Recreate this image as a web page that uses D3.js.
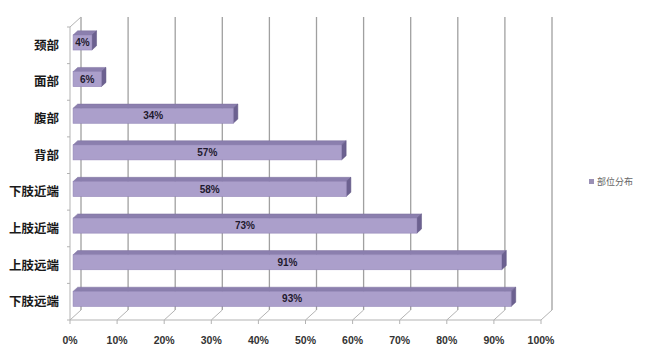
<!DOCTYPE html>
<html><head><meta charset="utf-8">
<script src="https://cdn.jsdelivr.net/npm/d3@7"></script>
<style>body{margin:0;background:#fff;}svg{display:block;font-family:"Noto Sans CJK SC","Noto Sans",sans-serif;}</style>
</head><body>
<script>
const categories = ["颈部","面部","腹部","背部","下肢近端","上肢近端","上肢远端","下肢远端"];
const values = [0.04,0.06,0.34,0.57,0.58,0.73,0.91,0.93];
const tickValues = [0,0.1,0.2,0.3,0.4,0.5,0.6,0.7,0.8,0.9,1.0];
const seriesName = "部位分布";

(function(){
const W=645,H=356;
const svg=d3.select("body").append("svg").attr("width",W).attr("height",H);

const x=d3.scaleLinear().domain([0,1]).range([70,541]);
const y=d3.scaleBand().domain(categories).range([27,320]);
const DX=11, DY=-10;
const off=d=>[DX*d,DY*d];

const wallCol="#b3b3b3", gridCol="#a0a0a0";
const g=svg.append("g");
tickValues.forEach(v=>{
  g.append("line").attr("x1",x(v)+DX).attr("x2",x(v)+DX).attr("y1",27+DY).attr("y2",320+DY)
   .attr("stroke",gridCol).attr("stroke-width",1.3);
  g.append("line").attr("x1",x(v)).attr("y1",320).attr("x2",x(v)+DX).attr("y2",320+DY)
   .attr("stroke",wallCol).attr("stroke-width",1);
  g.append("line").attr("x1",x(v)).attr("y1",320).attr("x2",x(v)).attr("y2",324)
   .attr("stroke",wallCol).attr("stroke-width",1);
});
g.append("line").attr("x1",x(0)).attr("x2",x(1)).attr("y1",320).attr("y2",320).attr("stroke",wallCol);
g.append("line").attr("x1",x(0)).attr("x2",x(0)).attr("y1",27).attr("y2",320).attr("stroke",wallCol);
g.append("line").attr("x1",x(0)).attr("y1",27).attr("x2",x(0)+DX).attr("y2",27+DY).attr("stroke",wallCol);
categories.forEach((c,i)=>{
  const yy=y(c);
  g.append("line").attr("x1",x(0)-3).attr("x2",x(0)).attr("y1",yy).attr("y2",yy).attr("stroke",wallCol);
});
g.append("line").attr("x1",x(0)-3).attr("x2",x(0)).attr("y1",320).attr("y2",320).attr("stroke",wallCol);

const d1=0.28,d2=0.70, barH=15;
const frontCol="#ab9fcb", topCol="#8b7fae", sideCol="#6c6190";
categories.forEach((c,i)=>{
  const v=values[i];
  const cy=y(c)+y.bandwidth()/2;
  const [fx,fy]=off(d1), [bx,by]=off(d2);
  const x0=x(0)+fx, x1=x(v)+fx, y0=cy+fy-barH/2, y1=cy+fy+barH/2;
  const ddx=bx-fx, ddy=by-fy;
  g.append("path").attr("d",`M${x0},${y0}L${x0+ddx},${y0+ddy}L${x1+ddx},${y0+ddy}L${x1},${y0}Z`)
   .attr("fill",topCol).attr("stroke","#7d719f").attr("stroke-width",0.5);
  g.append("path").attr("d",`M${x1},${y0}L${x1+ddx},${y0+ddy}L${x1+ddx},${y1+ddy}L${x1},${y1}Z`)
   .attr("fill",sideCol).attr("stroke","#5f5582").attr("stroke-width",0.5);
  g.append("rect").attr("x",x0).attr("y",y0).attr("width",x1-x0).attr("height",barH)
   .attr("fill",frontCol).attr("stroke","#9487b8").attr("stroke-width",0.6);
  g.append("text").attr("x",(x0+x1)/2).attr("y",cy+fy).attr("dy","0.36em")
   .attr("text-anchor","middle").attr("font-size",10).attr("font-weight","bold")
   .attr("fill","#1f1a2e").attr("font-family","'Liberation Sans',Arial,sans-serif")
   .text(Math.round(v*100)+"%");
  g.append("text").attr("x",59).attr("y",cy).attr("dy","0.36em").attr("text-anchor","end")
   .attr("font-size",12.5).attr("font-weight","bold").attr("fill","#1a1a1a").text(c);
});

tickValues.forEach(v=>{
  g.append("text").attr("x",x(v)).attr("y",344).attr("text-anchor","middle")
   .attr("font-size",10.5).attr("font-weight","bold").attr("fill","#333")
   .attr("font-family","'Liberation Sans',Arial,sans-serif").text(Math.round(v*100)+"%");
});

g.append("rect").attr("x",589).attr("y",179).attr("width",5).attr("height",5).attr("fill","#9a90b5");
g.append("text").attr("x",597).attr("y",182).attr("dy","0.36em").attr("font-size",9).attr("fill","#666").text(seriesName);
})();
</script>
</body></html>
